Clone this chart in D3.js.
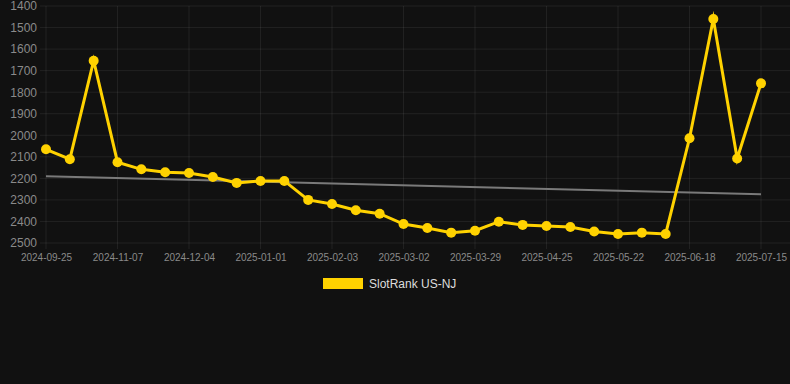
<!DOCTYPE html>
<html>
<head>
<meta charset="utf-8">
<script src="https://cdn.jsdelivr.net/npm/d3@7"></script>
<style>
  html, body { margin: 0; padding: 0; background: #111111; }
  #chart { width: 790px; height: 384px; }
  text { font-family: "Liberation Sans", Arial, sans-serif; }
</style>
</head>
<body>
<div id="chart"></div>
<script>
// dates of every data point (only every third is labelled on the axis)
const dates = [
    '2024-09-25', '2024-10-09', '2024-10-23', '2024-11-07', '2024-11-16', '2024-11-25',
    '2024-12-04', '2024-12-13', '2024-12-22', '2025-01-01', '2025-01-12', '2025-01-23',
    '2025-02-03', '2025-02-12', '2025-02-21', '2025-03-02', '2025-03-11', '2025-03-20',
    '2025-03-29', '2025-04-07', '2025-04-16', '2025-04-25', '2025-05-04', '2025-05-13',
    '2025-05-22', '2025-05-31', '2025-06-09', '2025-06-18', '2025-06-27', '2025-07-06',
    '2025-07-15'
];

// SlotRank US-NJ (lower is better, axis is reversed)
const ranks = [
    2065, 2111, 1654, 2125, 2158, 2172, 2175, 2194, 2221, 2212, 2212, 2300,
    2319, 2348, 2364, 2412, 2430, 2452, 2443, 2401, 2416, 2421, 2426, 2447,
    2458, 2452, 2458, 2014, 1460, 2108, 1759
];

// trend line, start and end values
const trend = [2190, 2274];

const yTicks = [1400, 1500, 1600, 1700, 1800, 1900, 2000, 2100, 2200, 2300, 2400, 2500];
const seriesName = 'SlotRank US-NJ';

const W = 790, H = 384;
const yellow = '#ffd200';

const svg = d3.select('#chart')
    .append('svg')
    .attr('width', W)
    .attr('height', H);

svg.append('rect')
    .attr('width', W)
    .attr('height', H)
    .attr('fill', '#111111');

const x = d3.scalePoint()
    .domain(dates)
    .range([46, 761]);

const y = d3.scaleLinear()
    .domain([1400, 2500])
    .range([6, 243]);

const labelled = dates.filter((d, i) => i % 3 === 0);

// grid
const grid = svg.append('g');
grid.selectAll('line.h')
    .data(yTicks)
    .enter()
    .append('line')
    .attr('x1', 40)
    .attr('x2', 790)
    .attr('y1', d => y(d))
    .attr('y2', d => y(d))
    .attr('stroke', 'rgba(255,255,255,0.07)')
    .attr('stroke-width', 1);

grid.selectAll('line.v')
    .data(labelled)
    .enter()
    .append('line')
    .attr('x1', d => x(d))
    .attr('x2', d => x(d))
    .attr('y1', y(1400))
    .attr('y2', y(2500) + 6)
    .attr('stroke', 'rgba(255,255,255,0.07)')
    .attr('stroke-width', 1);

// Y axis
const yAxis = svg.append('g')
    .attr('transform', 'translate(37, 0)')
    .call(d3.axisLeft(y).tickValues(yTicks).tickSize(0).tickPadding(0).tickFormat(d3.format('d')));
yAxis.select('.domain').remove();
yAxis.selectAll('text')
    .attr('fill', '#8a8a8a')
    .style('font-size', '12px')
    .style('font-family', '"Liberation Sans", Arial, sans-serif');

// X axis
const xAxis = svg.append('g')
    .attr('transform', 'translate(0, 251)')
    .call(d3.axisBottom(x).tickValues(labelled).tickSize(0).tickPadding(3));
xAxis.select('.domain').remove();
xAxis.selectAll('text')
    .attr('fill', '#8a8a8a')
    .style('font-size', '10px')
    .style('font-family', '"Liberation Sans", Arial, sans-serif');

// trend line
svg.append('line')
    .attr('x1', x(dates[0]))
    .attr('y1', y(trend[0]))
    .attr('x2', x(dates[dates.length - 1]))
    .attr('y2', y(trend[1]))
    .attr('stroke', '#7a7a7a')
    .attr('stroke-width', 2);

// rank line
const line = d3.line()
    .x((d, i) => x(dates[i]))
    .y(d => y(d));

svg.append('path')
    .datum(ranks)
    .attr('d', line)
    .attr('fill', 'none')
    .attr('stroke', yellow)
    .attr('stroke-width', 3)
    .attr('stroke-linejoin', 'miter')
    .attr('stroke-miterlimit', 10);

svg.append('g')
    .selectAll('circle')
    .data(ranks)
    .enter()
    .append('circle')
    .attr('cx', (d, i) => x(dates[i]))
    .attr('cy', d => y(d))
    .attr('r', 5)
    .attr('fill', yellow);

// legend
const legend = svg.append('g').attr('transform', 'translate(323, 278)');
legend.append('rect')
    .attr('width', 40)
    .attr('height', 11)
    .attr('fill', yellow);
legend.append('text')
    .attr('x', 46)
    .attr('y', 10)
    .attr('fill', '#dddddd')
    .style('font-size', '12px')
    .text(seriesName);
</script>
</body>
</html>
